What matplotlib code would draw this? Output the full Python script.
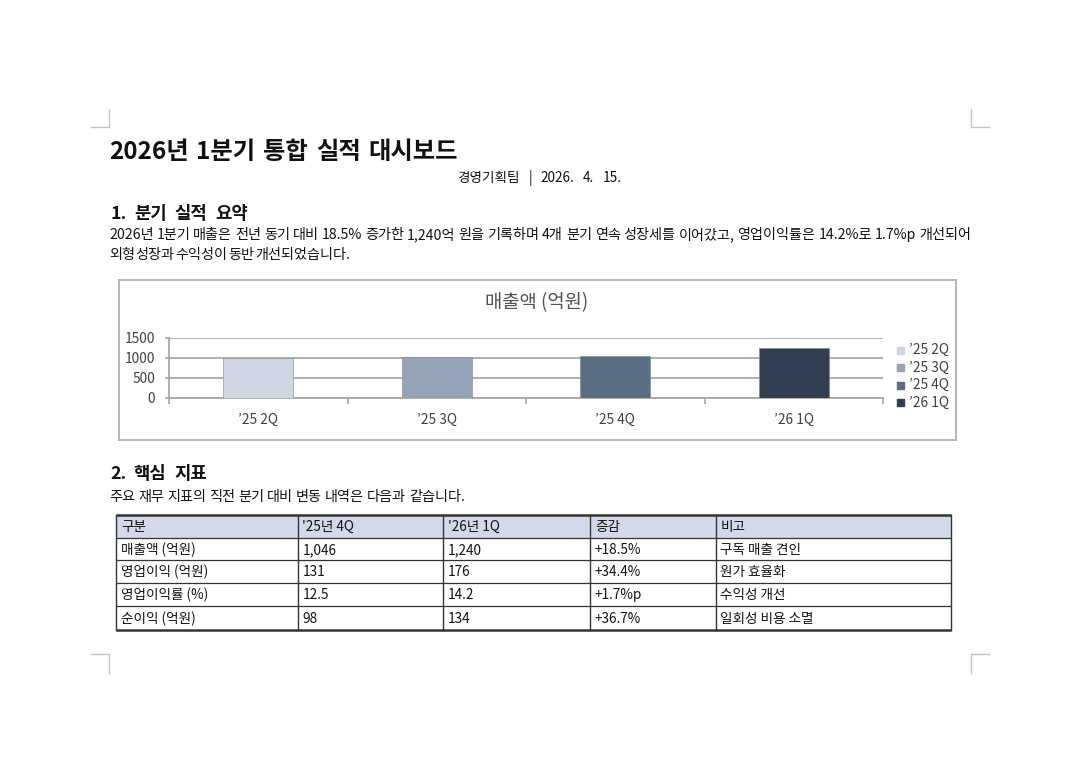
import matplotlib
matplotlib.use("Agg")
import matplotlib.pyplot as plt
from matplotlib.patches import Rectangle

plt.rcParams['font.family'] = ['Noto Sans CJK KR', 'DejaVu Sans']
KR = ['Noto Sans CJK KR', 'DejaVu Sans']
CH = ['Noto Sans CJK KR', 'DejaVu Sans']

# ---------------- data ----------------
title = "2026년 1분기 통합 실적 대시보드"
subtitle = "경영기획팀 | 2026. 4. 15."
heading1 = "1. 분기 실적 요약"
para1 = ["2026년 1분기 매출은 전년 동기 대비 18.5% 증가한 1,240억 원을 기록하며 4개 분기 연속 성장세를 이어갔고, 영업이익률은 14.2%로 1.7%p 개선되어",
         "외형 성장과 수익성이 동반 개선되었습니다."]
heading2 = "2. 핵심 지표"
para2 = "주요 재무 지표의 직전 분기 대비 변동 내역은 다음과 같습니다."

chart_title = "매출액 (억원)"
quarters = ["’25 2Q", "’25 3Q", "’25 4Q", "’26 1Q"]
revenue = [1000, 1012, 1046, 1240]
bar_colors = ["#cdd6e2", "#95a3b8", "#5a6e84", "#323f52"]
y_ticks = [0, 500, 1000, 1500]

table_header = ["구분", "'25년 4Q", "'26년 1Q", "증감", "비고"]
row_labels = ["매출액 (억원)", "영업이익 (억원)", "영업이익률 (%)", "순이익 (억원)"]
prev_q = ["1,046", "131", "12.5", "98"]
curr_q = ["1,240", "176", "14.2", "134"]
change = ["+18.5%", "+34.4%", "+1.7%p", "+36.7%"]
notes = ["구독 매출 견인", "원가 효율화", "수익성 개선", "일회성 비용 소멸"]

# ---------------- figure ----------------
W, H = 1080, 762
fig = plt.figure(figsize=(W / 100, H / 100), dpi=100)
fig.patch.set_facecolor("white")
bg = fig.add_axes([0, 0, 1, 1])
bg.set_xlim(0, W)
bg.set_ylim(H, 0)
bg.axis("off")
renderer = fig.canvas.get_renderer()
TXT = "#111111"


def place_line(text, x0, x1, y, size, weight="normal", color=TXT, family=KR):
    words = text.split(" ")
    objs = [bg.text(0, y, w, fontsize=size, fontweight=weight, color=color,
                    family=family, va="baseline", ha="left") for w in words]
    widths = [o.get_window_extent(renderer).width for o in objs]
    gap = (x1 - x0 - sum(widths)) / max(len(words) - 1, 1)
    x = x0
    for o, w in zip(objs, widths):
        o.set_x(x)
        x += w + gap


# crop marks
cm = dict(color="#c4c4c4", lw=1.0)
for (xv, xh0, xh1, yh, yv0, yv1) in [
        (109, 91, 109, 127, 109, 127),
        (971, 971, 989, 127, 109, 127),
        (109, 91, 109, 654, 654, 673),
        (971, 971, 989, 654, 654, 673)]:
    bg.plot([xh0, xh1], [yh, yh], **cm)
    bg.plot([xv, xv], [yv0, yv1], **cm)

# texts
place_line(title, 109, 458, 159, 17.5, weight="bold")
place_line(subtitle, 457, 622, 182, 9.8)
place_line(heading1, 110, 248, 219, 12.8, weight="bold")
place_line(para1[0], 109, 971, 239, 10.2)
place_line(para1[1], 109, 350, 259, 10.2)
place_line(heading2, 110, 207, 479, 12.8, weight="bold")
place_line(para2, 109, 465, 501, 10.2)

# chart frame
bg.add_patch(Rectangle((118.5, 279.5), 837, 160, fill=False, ec="#b4b4b4", lw=1.4))
bg.text(537, 303, chart_title, fontsize=13.5, color="#505050", family=KR,
        ha="center", va="center")

# chart axes
ax = fig.add_axes([169 / W, 1 - 397.7 / H, (883 - 169) / W, 60 / H])
ax.set_facecolor("none")
xs = list(range(len(quarters)))
ax.bar(xs, revenue, width=0.39, color=bar_colors, edgecolor="#7a8494",
       linewidth=0.4, zorder=3)
ax.set_xlim(-0.5, len(quarters) - 0.5)
ax.set_ylim(0, 1500)
ax.set_yticks(y_ticks)
ax.set_yticklabels([str(v) for v in y_ticks], family=CH, fontsize=9.9, color="#404040")
ax.yaxis.grid(True, color="#a8a8a8", lw=1.3, zorder=0)
ax.set_xticks(xs)
ax.set_xticklabels(quarters, family=CH, fontsize=9.9, color="#404040")
ax.set_xticks([x - 0.5 for x in range(len(quarters) + 1)], minor=True)
ax.tick_params(axis="x", which="major", length=0, pad=11)
ax.tick_params(axis="x", which="minor", length=4, color="#a8a8a8", width=1.2)
ax.tick_params(axis="y", length=3, color="#a8a8a8", width=1.2, pad=7)
for s in ["top", "right"]:
    ax.spines[s].set_visible(False)
for s in ["left", "bottom"]:
    ax.spines[s].set_color("#a8a8a8")
    ax.spines[s].set_linewidth(1.3)

# legend
leg_y = [350, 367.5, 385, 402.5]
for q, c, yy in zip(quarters, bar_colors, leg_y):
    bg.add_patch(Rectangle((897, yy - 3.5), 7, 7, color=c))
    bg.text(909, yy, q, family=CH, fontsize=9.9,
            color="#404040", va="center", ha="left")

# table
col_x = [116, 297.5, 443, 590, 715.5, 951]
row_y = [515, 537.7, 560, 582.5, 605.5, 630]
bg.add_patch(Rectangle((col_x[0], row_y[0]), col_x[-1] - col_x[0], row_y[1] - row_y[0],
                       color="#d3d9ea", lw=0))
rows = [table_header] + [list(r) for r in zip(row_labels, prev_q, curr_q, change, notes)]
for ri, row in enumerate(rows):
    yb = (row_y[ri] + row_y[ri + 1]) / 2 + 5
    for ci, cell in enumerate(row):
        bg.text(col_x[ci] + 5, yb, cell, fontsize=9.8, color=TXT, family=KR,
                va="baseline", ha="left")
lc = "#333333"
for i, yy in enumerate(row_y):
    lw = 1.8 if i in (0, len(row_y) - 1) else 0.9
    bg.plot([col_x[0], col_x[-1]], [yy, yy], color=lc, lw=lw, solid_capstyle="butt")
for xx in col_x:
    bg.plot([xx, xx], [row_y[0], row_y[-1]], color=lc, lw=1.0)

fig.savefig("out.png", dpi=100, facecolor="white")
